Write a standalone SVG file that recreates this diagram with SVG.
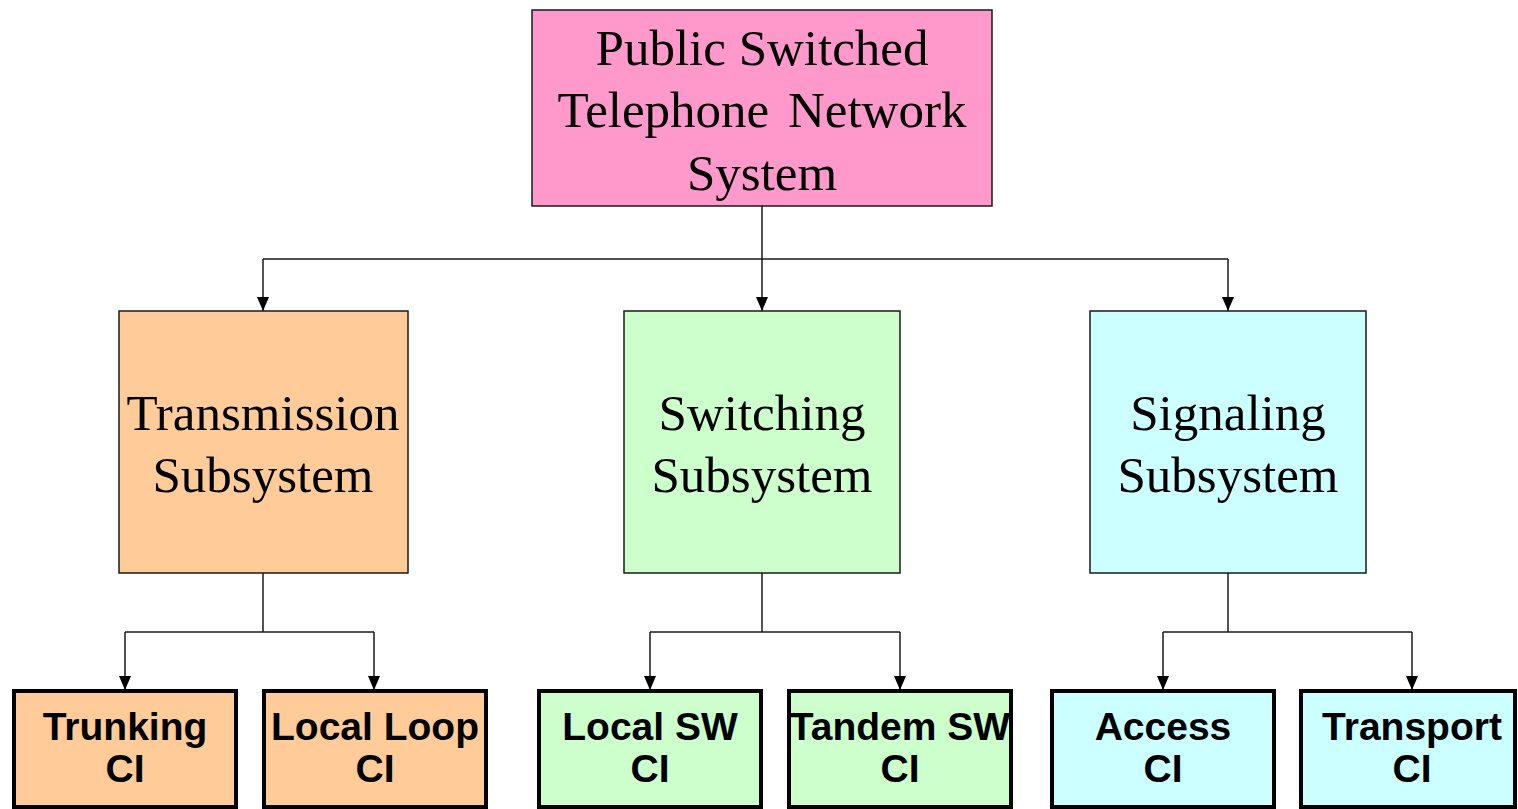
<svg xmlns="http://www.w3.org/2000/svg" width="1518" height="809" viewBox="0 0 1518 809">
<style>
.box{stroke:#1a1a1a;stroke-width:1.5}
.ci{stroke:#000;stroke-width:4}
.serif{font-family:"Liberation Serif","Times New Roman",serif;font-size:51px;fill:#000;text-anchor:middle}
.bold{font-family:"Liberation Sans",Arial,sans-serif;font-weight:bold;font-size:39px;fill:#000;text-anchor:middle}
.conn{fill:none;stroke:#1a1a1a;stroke-width:1.5}
</style>
<defs>
<marker id="arr" viewBox="0 0 14 12" refX="14" refY="6" markerWidth="14" markerHeight="12" markerUnits="userSpaceOnUse" orient="auto">
<path d="M0,0 L14,6 L0,12 Z" fill="#000"/>
</marker>
</defs>
<rect width="1518" height="809" fill="#fff"/>
<g id="connectors">
<path class="conn" d="M762,206 V311" marker-end="url(#arr)"/>
<path class="conn" d="M263,259 H1228"/>
<path class="conn" d="M263,259 V311" marker-end="url(#arr)"/>
<path class="conn" d="M1228,259 V311" marker-end="url(#arr)"/>
<path class="conn" d="M263,573 V632"/>
<path class="conn" d="M125,632 H374"/>
<path class="conn" d="M125,632 V690" marker-end="url(#arr)"/>
<path class="conn" d="M374,632 V690" marker-end="url(#arr)"/>
<path class="conn" d="M762,573 V632"/>
<path class="conn" d="M650,632 H900"/>
<path class="conn" d="M650,632 V690" marker-end="url(#arr)"/>
<path class="conn" d="M900,632 V690" marker-end="url(#arr)"/>
<path class="conn" d="M1228,573 V632"/>
<path class="conn" d="M1163,632 H1412"/>
<path class="conn" d="M1163,632 V690" marker-end="url(#arr)"/>
<path class="conn" d="M1412,632 V690" marker-end="url(#arr)"/>
</g>
<g id="pstn">
<rect class="box" x="532" y="10" width="460" height="196" fill="#FF99CC"/>
<text class="serif" x="762" y="65">Public Switched</text>
<text class="serif" x="762" y="127" word-spacing="6">Telephone Network</text>
<text class="serif" x="762" y="190">System</text>
</g>
<g id="transmission">
<rect class="box" x="119" y="311" width="289" height="262" fill="#FFCC99"/>
<text class="serif" x="263" y="430">Transmission</text>
<text class="serif" x="263" y="492">Subsystem</text>
</g>
<g id="switching">
<rect class="box" x="624" y="311" width="276" height="262" fill="#CCFFCC"/>
<text class="serif" x="762" y="430">Switching</text>
<text class="serif" x="762" y="492">Subsystem</text>
</g>
<g id="signaling">
<rect class="box" x="1090" y="311" width="276" height="262" fill="#CCFFFF"/>
<text class="serif" x="1228" y="430">Signaling</text>
<text class="serif" x="1228" y="492">Subsystem</text>
</g>
<g id="trunking">
<rect class="ci" x="14" y="691" width="222" height="116" fill="#FFCC99"/>
<text class="bold" x="125" y="740">Trunking</text>
<text class="bold" x="125" y="782">CI</text>
</g>
<g id="localloop">
<rect class="ci" x="264" y="691" width="222" height="116" fill="#FFCC99"/>
<text class="bold" x="375" y="740">Local Loop</text>
<text class="bold" x="375" y="782">CI</text>
</g>
<g id="localsw">
<rect class="ci" x="539" y="691" width="222" height="116" fill="#CCFFCC"/>
<text class="bold" x="650" y="740">Local SW</text>
<text class="bold" x="650" y="782">CI</text>
</g>
<g id="tandemsw">
<rect class="ci" x="789" y="691" width="222" height="116" fill="#CCFFCC"/>
<text class="bold" x="900" y="740">Tandem SW</text>
<text class="bold" x="900" y="782">CI</text>
</g>
<g id="access">
<rect class="ci" x="1052" y="691" width="222" height="116" fill="#CCFFFF"/>
<text class="bold" x="1163" y="740">Access</text>
<text class="bold" x="1163" y="782">CI</text>
</g>
<g id="transport">
<rect class="ci" x="1301" y="691" width="214" height="116" fill="#CCFFFF"/>
<text class="bold" x="1412" y="740">Transport</text>
<text class="bold" x="1412" y="782">CI</text>
</g>
</svg>
